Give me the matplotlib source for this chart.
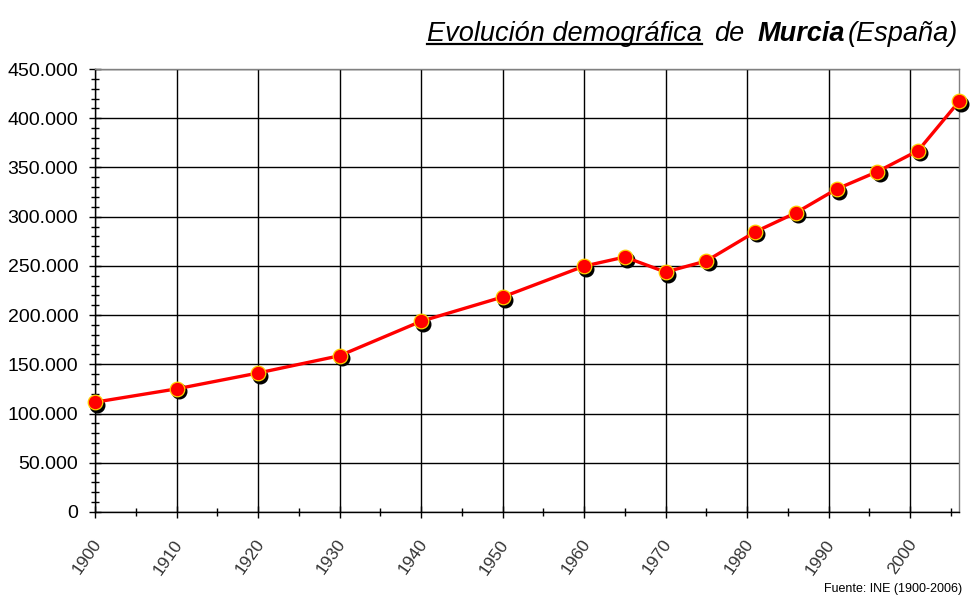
import matplotlib
matplotlib.use("Agg")
import matplotlib.pyplot as plt
import matplotlib.transforms as mtransforms
from matplotlib.ticker import MultipleLocator, FuncFormatter
from matplotlib.lines import Line2D

years = [1900, 1910, 1920, 1930, 1940, 1950, 1960, 1965, 1970, 1975,
         1981, 1986, 1991, 1996, 2001, 2006]
population = [111539, 125057, 141175, 158724, 193731, 218375, 249738, 259000,
              243759, 255000, 284585, 304000, 328100, 345759, 367189, 416996]

title_parts = ["Evolución demográfica", "de", "Murcia", "(España)"]
source_text = "Fuente: INE (1900-2006)"

plt.rcParams['font.family'] = ['Liberation Sans', 'DejaVu Sans']

fig = plt.figure(figsize=(9.74, 6.04), dpi=100)
ax = fig.add_axes([95/974, 92/604, 864/974, 443/604])

ax.set_xlim(1900, 2006)
ax.set_ylim(0, 450000)

ax.xaxis.set_major_locator(MultipleLocator(10))
ax.xaxis.set_minor_locator(MultipleLocator(5))
ax.yaxis.set_major_locator(MultipleLocator(50000))
ax.yaxis.set_minor_locator(MultipleLocator(10000))
ax.yaxis.set_major_formatter(FuncFormatter(lambda v, p: f"{int(v):,}".replace(",", ".")))
ax.xaxis.set_major_formatter(FuncFormatter(lambda v, p: f"{int(v)}" if v < 2006 else ""))

ax.grid(True, which='major', color='black', linewidth=1.0)
ax.set_axisbelow(True)

ax.tick_params(axis='both', which='major', direction='inout', length=8, width=1,
               color='black')
ax.tick_params(axis='both', which='minor', direction='inout', length=6, width=1,
               color='black')
ax.tick_params(axis='y', pad=8, labelsize=14)
ax.tick_params(axis='x', pad=17, labelsize=12.5)
shift = mtransforms.ScaledTranslation(3/100, 0, fig.dpi_scale_trans)
for lbl in ax.get_xticklabels():
    lbl.set_rotation(55)
    lbl.set_ha('right')
    lbl.set_va('center')
    lbl.set_rotation_mode('anchor')
    lbl.set_color('#333333')
    lbl.set_transform(lbl.get_transform() + shift)

# shadow markers
shadow = mtransforms.offset_copy(ax.transData, fig=fig, x=2.2, y=-2.5, units='dots')
ax.plot(years, population, linestyle='none', marker='o', markersize=10.5,
        markerfacecolor='black', markeredgecolor='black', transform=shadow,
        clip_on=False, zorder=3)
ax.plot(years, population, color='#FF0000', linewidth=2.4, zorder=4, clip_on=False)
ax.plot(years, population, linestyle='none', marker='o', markersize=10.5,
        markerfacecolor='#FF0000', markeredgecolor='#FFD000', markeredgewidth=0.9,
        zorder=5, clip_on=False)

for s in ['left', 'bottom']:
    ax.spines[s].set_color('black')
    ax.spines[s].set_linewidth(1.0)
for s in ['top', 'right']:
    ax.spines[s].set_color('#808080')
    ax.spines[s].set_linewidth(1.0)

# title
fs = 19.5
t1 = fig.text(427/974, 1 - 41/604, title_parts[0], fontsize=fs, style='italic',
              ha='left', va='baseline')
t2 = ax.annotate(title_parts[1], xy=(1, 0), xycoords=t1, xytext=(9, 0),
                 textcoords='offset points', fontsize=fs, style='italic',
                 ha='left', va='bottom', annotation_clip=False)
t3 = ax.annotate(title_parts[2], xy=(1, 0), xycoords=t2, xytext=(9, 0),
                 textcoords='offset points', fontsize=fs, style='italic',
                 weight='bold', ha='left', va='bottom', annotation_clip=False)
t4 = ax.annotate(title_parts[3], xy=(1, 0), xycoords=t3, xytext=(2, 0),
                 textcoords='offset points', fontsize=fs, style='italic',
                 ha='left', va='bottom', annotation_clip=False)

fig.canvas.draw()
bb = t1.get_window_extent()
uy = 1 - 44/604
fig.add_artist(Line2D([bb.x0 / 974, bb.x1 / 974], [uy, uy], color='black',
                      linewidth=1.6, transform=fig.transFigure))

fig.text(962/974, 1 - 592/604, source_text, fontsize=9, ha='right', va='baseline')

fig.savefig("out.png", dpi=100, facecolor='white')
